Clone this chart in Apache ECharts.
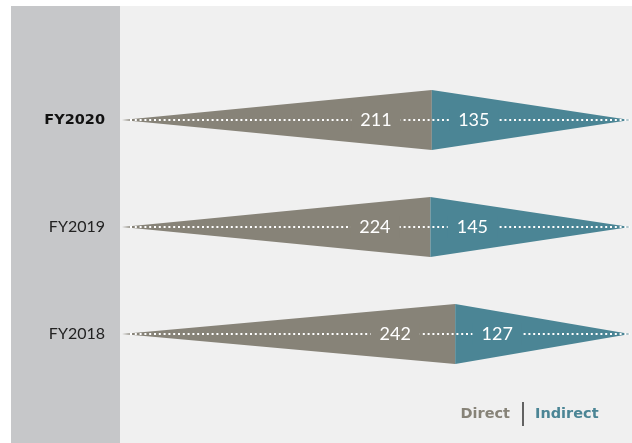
<!DOCTYPE html>
<html>
<head>
<meta charset="utf-8">
<script src="https://cdn.jsdelivr.net/npm/echarts@6/dist/echarts.min.js"></script>
<style>
  html, body { margin: 0; padding: 0; background: #ffffff; }
  #chart { width: 632px; height: 443px; }
</style>
</head>
<body>
<div id="chart"></div>
<script>
// Emissions split per fiscal year (bottom to top on the category axis)
const categories = ['FY2018', 'FY2019', 'FY2020'];
const directValues = [242, 224, 211];
const indirectValues = [127, 145, 135];
const boldCategory = 'FY2020';

const DIRECT_COLOR = '#878378';
const INDIRECT_COLOR = '#4b8595';
const FONT = 'Lato, "Open Sans", sans-serif';
const HEAVY_FONT = '"DejaVu Sans", Lato, sans-serif';

const chart = echarts.init(document.getElementById('chart'), null, { renderer: 'canvas' });

const seriesData = categories.map((c, i) => [i, directValues[i], indirectValues[i]]);

function renderItem(params, api) {
  const idx = api.value(0);
  const d = api.value(1);
  const ind = api.value(2);
  const split = d / (d + ind);
  const left = api.coord([0, idx]);
  const mid = api.coord([split, idx]);
  const right = api.coord([1, idx]);
  const half = 30;
  const y = left[1];
  const labelFont = '18px ' + FONT;
  return {
    type: 'group',
    children: [
      {
        type: 'polygon',
        shape: { points: [[left[0], y], [mid[0], y - half], [mid[0], y + half]] },
        style: { fill: DIRECT_COLOR }
      },
      {
        type: 'polygon',
        shape: { points: [[mid[0], y - half], [right[0], y], [mid[0], y + half]] },
        style: { fill: INDIRECT_COLOR }
      },
      {
        type: 'line',
        shape: { x1: left[0] + 8, y1: y, x2: right[0], y2: y },
        style: { stroke: '#ffffff', lineWidth: 2, lineDash: [2, 2.8] }
      },
      {
        type: 'text',
        x: left[0] + (mid[0] - left[0]) * 0.82,
        y: y,
        style: {
          text: String(d), fill: '#ffffff', font: labelFont,
          align: 'center', verticalAlign: 'middle',
          backgroundColor: DIRECT_COLOR, padding: [2, 9]
        }
      },
      {
        type: 'text',
        x: mid[0] + 42,
        y: y,
        style: {
          text: String(ind), fill: '#ffffff', font: labelFont,
          align: 'center', verticalAlign: 'middle',
          backgroundColor: INDIRECT_COLOR, padding: [2, 9]
        }
      }
    ]
  };
}

const option = {
  animation: false,
  backgroundColor: '#ffffff',
  graphic: [
    { type: 'rect', z: -10, shape: { x: 11, y: 6, width: 109, height: 437 }, style: { fill: '#c6c7c9' } },
    { type: 'rect', z: -10, shape: { x: 120, y: 6, width: 512, height: 437 }, style: { fill: '#f0f0f0' } },
    { type: 'text', z: 10, x: 510, y: 414,
      style: { text: 'Direct', fill: DIRECT_COLOR, font: 'bold 14.5px ' + HEAVY_FONT, align: 'right', verticalAlign: 'middle' } },
    { type: 'line', z: 10, shape: { x1: 523, y1: 402, x2: 523, y2: 426 }, style: { stroke: '#333333', lineWidth: 1.5 } },
    { type: 'text', z: 10, x: 535, y: 414,
      style: { text: 'Indirect', fill: INDIRECT_COLOR, font: 'bold 14.5px ' + HEAVY_FONT, align: 'left', verticalAlign: 'middle' } }
  ],
  grid: { left: 122, right: 2, top: 66.5, bottom: 55.5 },
  xAxis: {
    type: 'value', min: 0, max: 1, show: false
  },
  yAxis: {
    type: 'category',
    data: categories,
    axisLine: { show: false },
    axisTick: { show: false },
    splitLine: { show: false },
    axisLabel: {
      margin: 17,
      fontFamily: FONT,
      fontSize: 16,
      color: '#222222',
      formatter: v => v === boldCategory ? '{b|' + v + '}' : v,
      rich: {
        b: { fontFamily: HEAVY_FONT, fontSize: 14.5, fontWeight: 'bold', color: '#111111' }
      }
    }
  },
  series: [{
    type: 'custom',
    renderItem: renderItem,
    encode: { x: [1, 2], y: 0 },
    data: seriesData
  }]
};

chart.setOption(option);
</script>
</body>
</html>
